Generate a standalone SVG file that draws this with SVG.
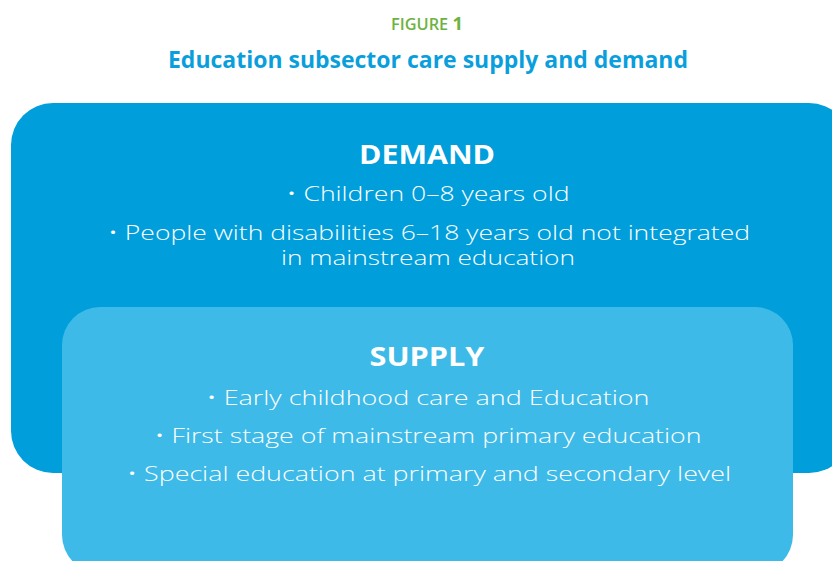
<svg xmlns="http://www.w3.org/2000/svg" width="832" height="561" viewBox="0 0 832 561">
  <style>
    .fig { font-family: "Open Sans", "Liberation Sans", sans-serif; font-weight: 600; fill: #6db33f; }
    .title { font-family: "Open Sans", "Liberation Sans", sans-serif; font-weight: 700; fill: #0a9fdc; }
    .head { font-family: "Open Sans", "Liberation Sans", sans-serif; font-weight: 700; font-size: 27px; fill: #ffffff; }
    .item { font-family: "Open Sans", "Liberation Sans", sans-serif; font-weight: 300; font-size: 20px; fill: #ffffff; }
  </style>
  <rect width="832" height="561" fill="#ffffff"/>
  <text class="fig" x="427" y="30" text-anchor="middle" font-size="16" textLength="72" lengthAdjust="spacingAndGlyphs">FIGURE <tspan font-weight="700" font-size="18">1</tspan></text>
  <text class="title" x="428" y="68" text-anchor="middle" font-size="24" textLength="520" lengthAdjust="spacingAndGlyphs">Education subsector care supply and demand</text>

  <g id="demand">
    <rect x="11" y="103" width="840" height="370" rx="42" fill="#009edb"/>
    <text class="head" x="427" y="164" text-anchor="middle" textLength="136" lengthAdjust="spacingAndGlyphs">DEMAND</text>
    <text class="item" x="428" y="201" text-anchor="middle" textLength="283" lengthAdjust="spacingAndGlyphs">• Children 0–8 years old</text>
    <text class="item" x="429" y="240" text-anchor="middle" textLength="642" lengthAdjust="spacingAndGlyphs">• People with disabilities 6–18 years old not integrated</text>
    <text class="item" x="428" y="265" text-anchor="middle" textLength="294" lengthAdjust="spacingAndGlyphs">in mainstream education</text>
  </g>

  <g id="supply">
    <rect x="62" y="307" width="731" height="266" rx="38" fill="#3dbae7"/>
    <text class="head" x="427" y="366" text-anchor="middle" textLength="115" lengthAdjust="spacingAndGlyphs">SUPPLY</text>
    <text class="item" x="428" y="405" text-anchor="middle" textLength="443" lengthAdjust="spacingAndGlyphs">• Early childhood care and Education</text>
    <text class="item" x="428" y="443" text-anchor="middle" textLength="547" lengthAdjust="spacingAndGlyphs">• First stage of mainstream primary education</text>
    <text class="item" x="429" y="481" text-anchor="middle" textLength="604" lengthAdjust="spacingAndGlyphs">• Special education at primary and secondary level</text>
  </g>

  <g id="connectors"></g>
</svg>
